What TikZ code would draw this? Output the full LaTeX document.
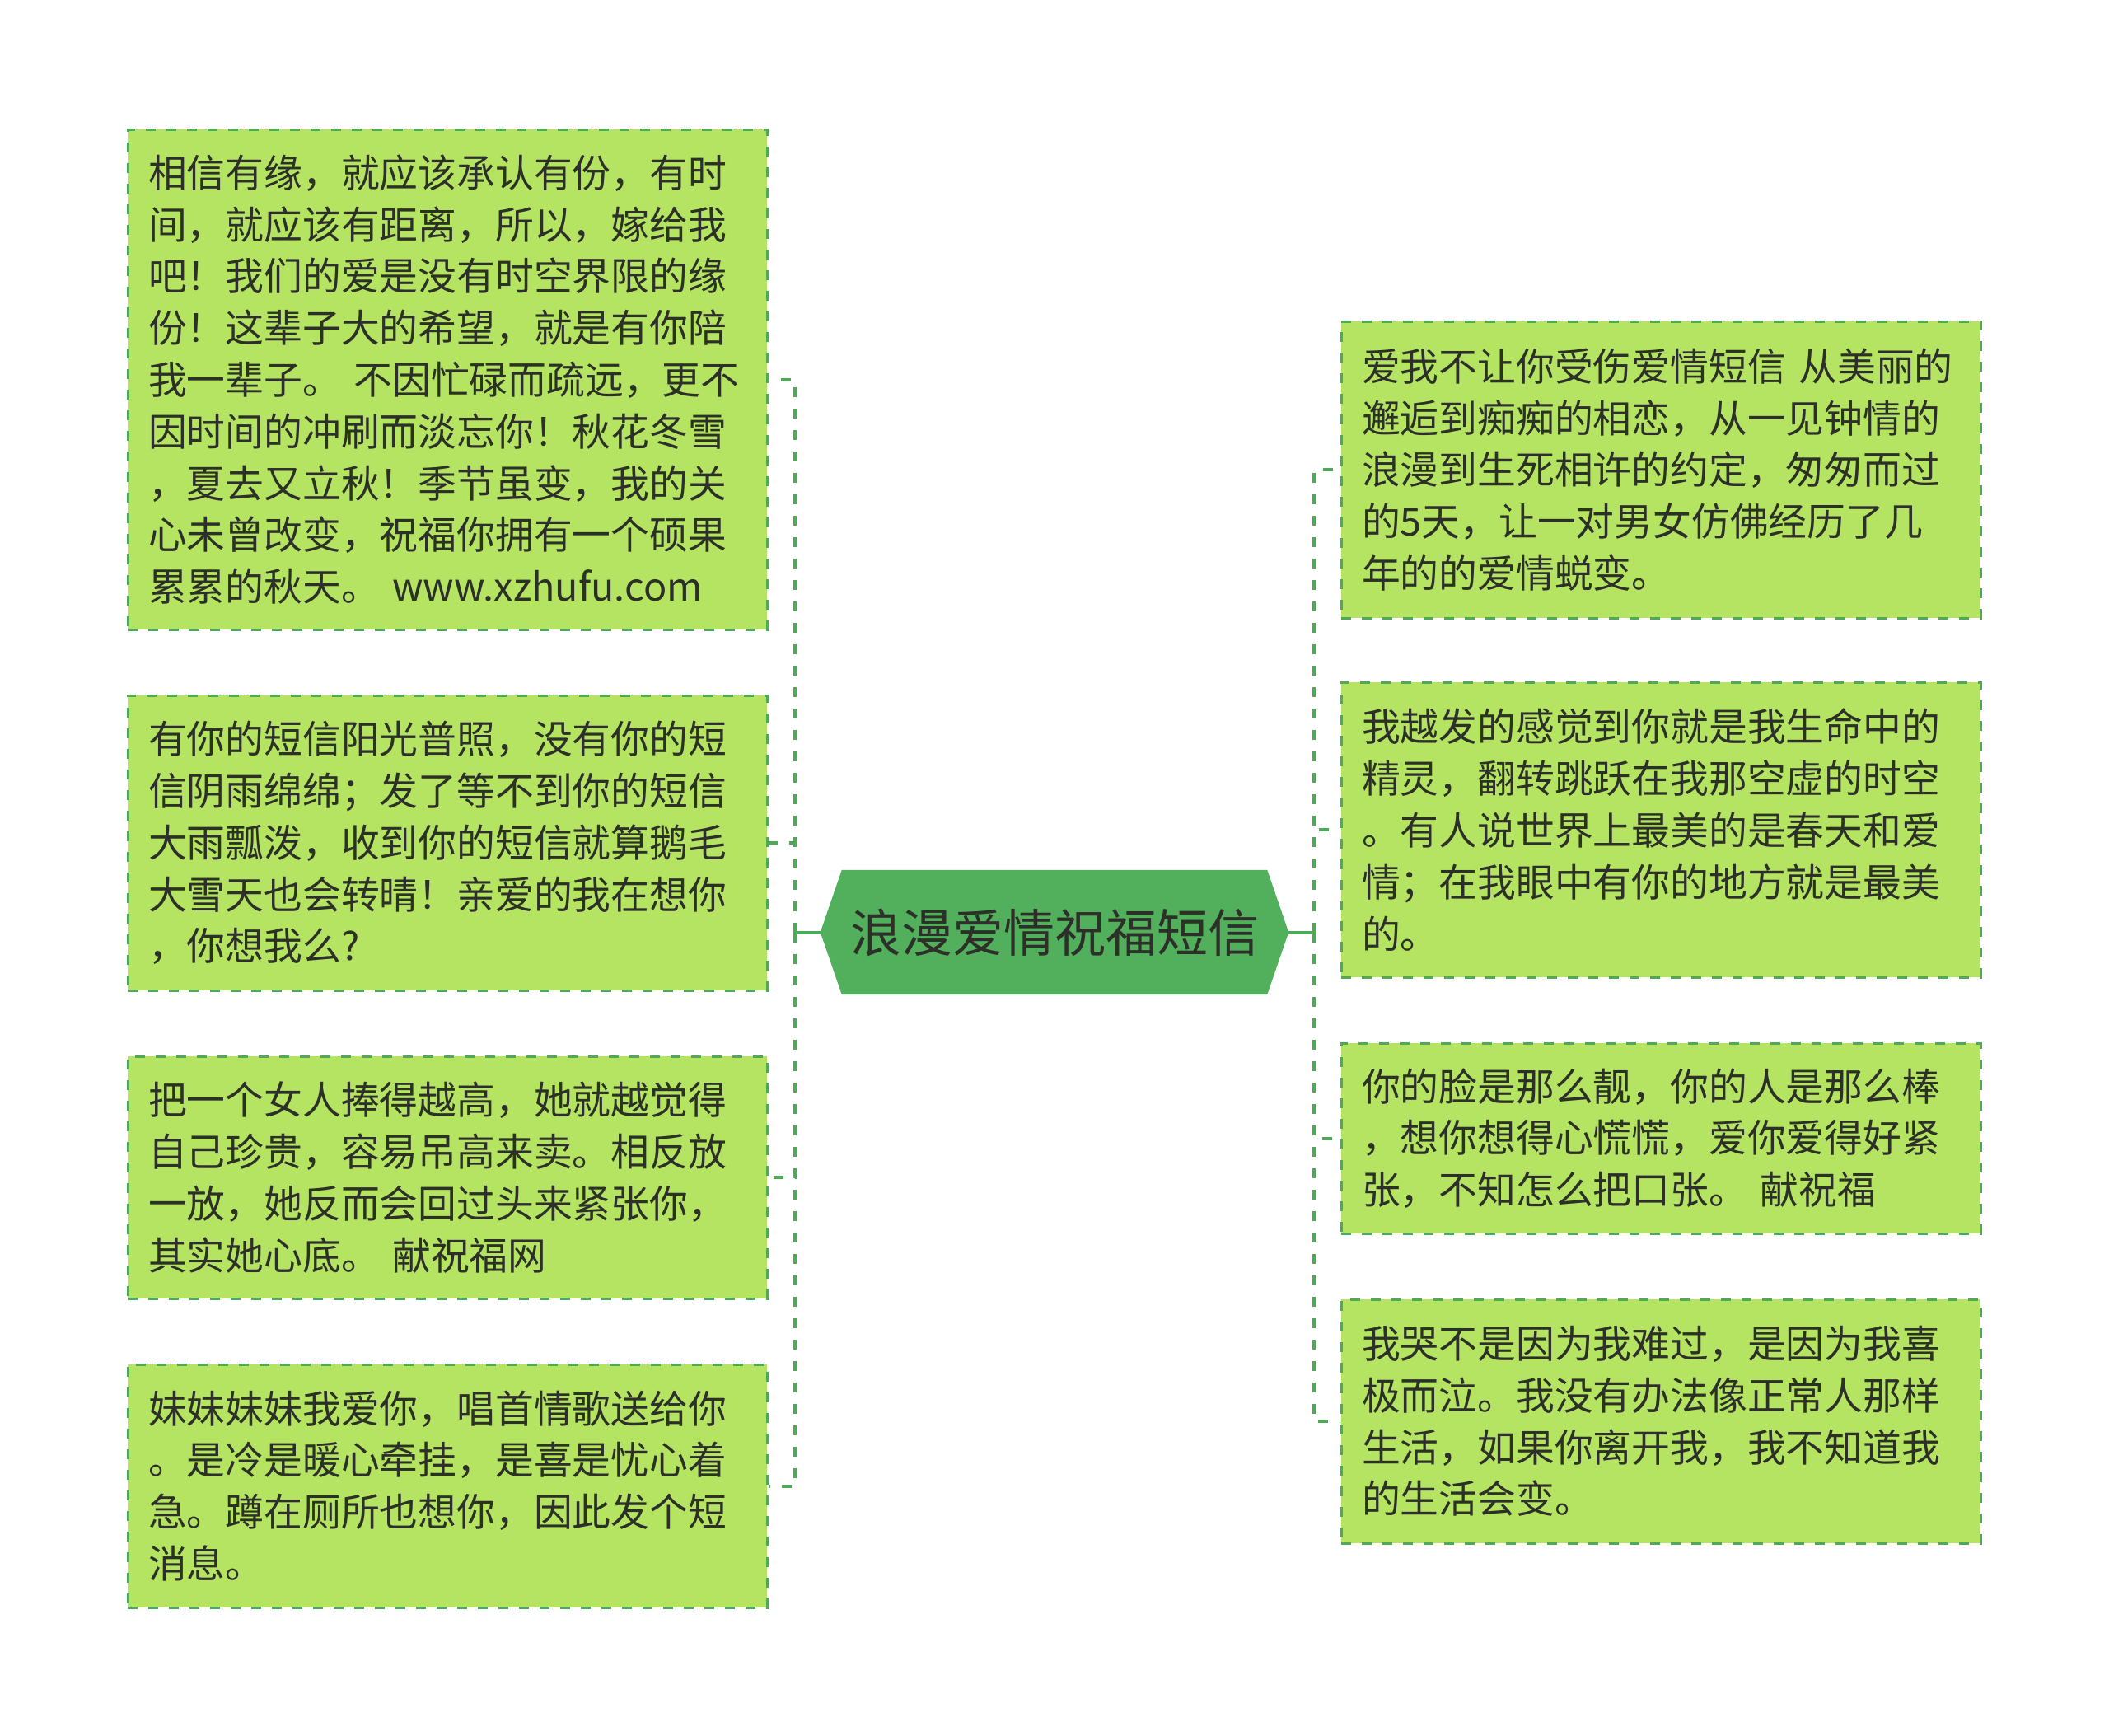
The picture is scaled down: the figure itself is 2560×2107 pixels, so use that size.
\documentclass[tikz,border=0pt]{standalone}
\usepackage{fontspec}
\newfontfamily\cjk{Noto Sans CJK SC}
\usetikzlibrary{backgrounds}
\definecolor{leafgreen}{RGB}{180,228,98}
\definecolor{linegreen}{RGB}{78,170,86}
\definecolor{rootgreen}{RGB}{82,176,93}
\definecolor{txt}{RGB}{44,48,40}
\tikzset{
  leaf/.style={rectangle, draw=linegreen, line width=3pt, dash pattern=on 12pt off 13pt,
    fill=leafgreen, text width=726pt, inner xsep=25pt, inner ysep=0pt, align=left,
    minimum width=776pt, text=txt, font=\cjk\fontsize{46.8}{62.8}\selectfont},
  conn/.style={draw=linegreen, line width=4pt, dash pattern=on 12pt off 14pt},
  rootline/.style={draw=linegreen, line width=4pt},
  rootnode/.style={rectangle, minimum width=568pt, minimum height=151pt, inner sep=0pt,
    text=txt, font=\cjk\fontsize{62}{70}\selectfont}
}
\begin{document}
\begin{tikzpicture}[x=1pt,y=-1pt]
\useasboundingbox (0,0) rectangle (2560,2107);

% root
\node[rootnode] (root) at (1280,1131.5) {浪漫爱情祝福短信};
\begin{scope}[on background layer]
\fill[white] (0,0) rectangle (2560,2107);
\fill[rootgreen] (root.west) -- ([xshift=26pt]root.north west) -- ([xshift=-26pt]root.north east)
  -- (root.east) -- ([xshift=-26pt]root.south east) -- ([xshift=26pt]root.south west) -- cycle;
\end{scope}

% left leaves
\node[leaf, minimum height=607pt] (l1) at (543,460.5) {相信有缘，就应该承认有份，有时\\间，就应该有距离，所以，嫁给我\\吧！我们的爱是没有时空界限的缘\\份！这辈子大的希望，就是有你陪\\我一辈子。 不因忙碌而疏远，更不\\因时间的冲刷而淡忘你！秋花冬雪\\，夏去又立秋！季节虽变，我的关\\心未曾改变，祝福你拥有一个硕果\\累累的秋天。 www.xzhufu.com};
\node[leaf, minimum height=358pt] (l2) at (543,1023) {有你的短信阳光普照，没有你的短\\信阴雨绵绵；发了等不到你的短信\\大雨瓢泼，收到你的短信就算鹅毛\\大雪天也会转晴！亲爱的我在想你\\，你想我么?};
\node[leaf, minimum height=294pt] (l3) at (543,1429) {把一个女人捧得越高，她就越觉得\\自己珍贵，容易吊高来卖。相反放\\一放，她反而会回过头来紧张你，\\其实她心底。 献祝福网};
\node[leaf, minimum height=295pt] (l4) at (543,1803.5) {妹妹妹妹我爱你，唱首情歌送给你\\。是冷是暖心牵挂，是喜是忧心着\\急。蹲在厕所也想你，因此发个短\\消息。};

% right leaves
\node[leaf, minimum height=360pt] (r1) at (2016,570) {爱我不让你受伤爱情短信 从美丽的\\邂逅到痴痴的相恋，从一见钟情的\\浪漫到生死相许的约定，匆匆而过\\的5天，让一对男女仿佛经历了几\\年的的爱情蜕变。};
\node[leaf, minimum height=358pt] (r2) at (2016,1007) {我越发的感觉到你就是我生命中的\\精灵，翻转跳跃在我那空虚的时空\\。有人说世界上最美的是春天和爱\\情；在我眼中有你的地方就是最美\\的。};
\node[leaf, minimum height=231pt] (r3) at (2016,1381.5) {你的脸是那么靓，你的人是那么棒\\，想你想得心慌慌，爱你爱得好紧\\张，不知怎么把口张。 献祝福};
\node[leaf, minimum height=296pt] (r4) at (2016,1725) {我哭不是因为我难过，是因为我喜\\极而泣。我没有办法像正常人那样\\生活，如果你离开我，我不知道我\\的生活会变。};

% junctions
\coordinate (lj) at (965,1131.5);
\coordinate (rj) at (1595,1131.5);

% connectors
\draw[rootline] (root.west) -- (lj);
\draw[rootline] (root.east) -- (rj);
\draw[rootline] ([yshift=-12pt]lj) -- ([yshift=2pt]lj);
\draw[rootline] ([yshift=-12pt]rj) -- ([yshift=2pt]rj);
\foreach \n in {l1,l2,l3,l4} { \draw[conn] (lj) |- (\n.east); }
\foreach \n in {r1,r2,r3,r4} { \draw[conn] (rj) |- (\n.west); }
\end{tikzpicture}
\end{document}
